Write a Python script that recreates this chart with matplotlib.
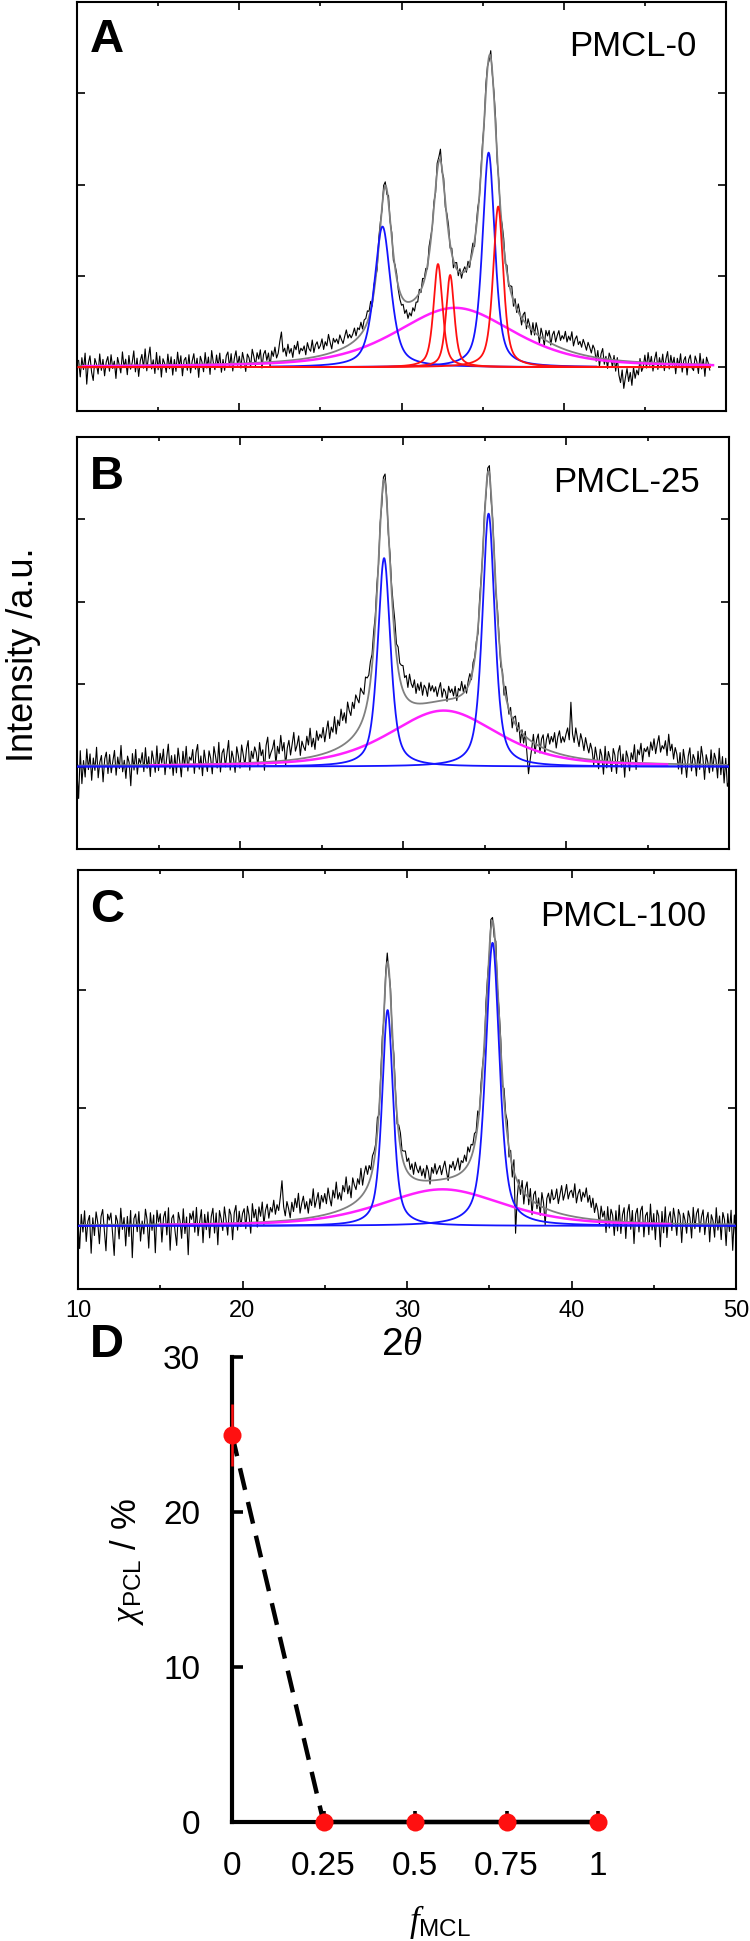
import numpy as np
import matplotlib
matplotlib.use('Agg')
from matplotlib import pyplot as plt
from matplotlib.ticker import MultipleLocator

plt.rcParams['font.family'] = ['Liberation Sans', 'DejaVu Sans']
plt.rcParams['mathtext.fontset'] = 'custom'
plt.rcParams['mathtext.rm'] = 'Liberation Sans'
plt.rcParams['mathtext.it'] = 'Liberation Serif:italic'
plt.rcParams['mathtext.bf'] = 'Liberation Sans:bold'

W, H = 750, 1941

# 2theta sampling of the measured scans (0.1 deg step, 10..50)
two_theta = np.round(np.arange(0, 401) * 0.1 + 10, 2)

# peak tables: (centre, height, fwhm), heights in tick units of each panel
a_blue = [(28.83, 1.54, 1.2), (35.37, 2.35, 0.9)]
a_red = [(32.25, 1.13, 0.65), (33.0, 1.01, 0.6), (35.96, 1.76, 0.74)]
a_amorph = (33.3, 0.65, 8.6)
a_fit = [(29.0, 1.62, 1.0), (32.35, 1.55, 1.0), (35.45, 2.85, 1.15)]

b_blue = [(28.84, 2.53, 0.92), (35.25, 3.07, 0.9)]
b_amorph = (32.5, 0.68, 7.9)
b_fit = [(28.84, 3.1, 1.0), (35.25, 3.1, 1.0)]

c_blue = [(28.82, 1.83, 0.79), (35.2, 2.4, 1.0)]
c_amorph = (32.15, 0.31, 8.9)
c_fit = [(28.82, 2.02, 0.85), (35.2, 2.36, 1.1)]

a_resid = [0, 6, -12, 9, -4, 14, -20, 3, 11, -7,
           -16, 8, 2, -9, 13, -5, 7, -11, 4, 10,
           -6, 12, -3, 5, -14, 9, 1, -8, 15, -2,
           7, -10, 11, -4, 3, 16, -7, 8, -12, 5,
           12, -3, 18, -6, 9, 20, -4, 6, -9, 14,
           -5, 10, -13, 7, 2, -8, 12, -4, 9, -11,
           6, -7, 14, -2, 10, -12, 5, 8, -6, 11,
           -9, 4, 12, -5, 7, -14, 9, 3, -8, 13,
           -4, 8, -11, 15, 2, -6, 10, -3, 12, -9,
           5, -7, 9, 13, -4, 11, -8, 6, 14, -2,
           8, -5, 12, 3, -9, 10, 6, -4, 15, 7,
           -3, 11, 4, 14, -6, 9, 13, 2, 10, -5,
           12, 6, 16, 4, 9, 22, 32, 10, 14, 5,
           18, 8, 13, 3, 16, 11, 20, 6, 12, 9,
           14, 4, 17, 10, 7, 19, 5, 13, 16, 8,
           11, 18, 6, 14, 9, 21, 12, 4, 15, 10,
           13, 7, 16, 10, 5, 12, 18, 8, 11, 6,
           9, 14, 4, 11, 7, 13, 3, 10, 8, 12,
           6, 10, -4, 8, 3, -6, 9, 5, -3, 7,
           4, -5, 8, -2, 6, -7, 3, 5, -4, -8,
           -10, -6, -14, -9, -18, -12, -16, -8, -13, -5,
           -7, 4, -3, 8, 2, 6, -4, 9, 5, -2,
           6, -5, 9, 4, 12, -3, 7, -6, 5, 8,
           -4, 6, -8, 3, 7, -5, 4, -6, 2, 5,
           -3, 6, -5, 4, 8, -6, 3, 7, -4, 5,
           6, -4, 8, 3, -5, 7, -3, 5, 9, -6,
           4, -7, 6, 9, -3, 8, -5, 4, 10, -6,
           7, -4, 9, 2, -8, 6, 11, -5, 8, 3,
           -6, 9, -3, 12, 5, -8, 10, 4, -7, 11,
           6, 13, -2, 10, 15, 4, 12, 18, 8, 14,
           11, 20, 9, 16, 12, 22, 7, 15, 19, 10,
           14, 8, 17, 12, 6, 15, 10, 4, 13, 9,
           -4, 8, -9, 5, 11, -6, 3, -10, 7, 2,
           -8, 5, -12, 3, -16, -24, -10, -30, -18, -8,
           -22, -12, -26, -6, -18, -9, -14, 4, -10, -5,
           8, -6, 11, -3, 7, -9, 4, 12, -7, 6,
           -4, 10, -8, 5, 13, -6, 9, -2, 7, -11,
           6, -3, 11, -9, 4, 8, -12, 5, 10, -4,
           -7, 9, 3, -10, 12, -5, 6, -13, 8, 2,
           -6, 10, -9, 4, 12, -8, 5, -11, 7, -4,
           0]

b_resid = [-8, -40, 18, -22, 6, -14, 20, -5, 14, -18,
           9, -6, 22, -15, 4, 12, -20, 8, 16, -10,
           13, -9, 5, 18, -12, 10, -4, 24, -8, 6,
           -16, 11, 3, -25, 14, -6, 19, -11, 8, 2,
           15, -8, 21, -4, 10, -14, 17, 6, -9, 23,
           -7, 14, 2, 19, -12, 8, 25, -5, 11, -13,
           12, -10, 20, 4, -15, 16, -3, 22, -8, 9,
           5, 18, -11, 14, 24, -6, 10, -14, 17, 3,
           -9, 16, 7, -12, 21, 9, -5, 26, -10, 13,
           18, -4, 12, 28, -8, 15, 6, -11, 20, 9,
           -6, 22, 10, -3, 17, 27, -9, 14, 5, 19,
           12, -5, 24, 8, 15, -10, 20, 30, 4, 11,
           16, 26, -4, 18, 9, 31, 12, 22, -6, 15,
           24, 6, 19, 33, 10, 17, 28, 4, 21, 14,
           9, 26, 15, 35, 12, 22, 8, 30, 18, 25,
           20, 32, 14, 27, 38, 16, 29, 22, 40, 18,
           34, 26, 45, 30, 38, 24, 48, 36, 28, 42,
           32, 46, 38, 30, 44, 35, 26, 40, 30, 22,
           24, 14, 18, 8, 12, -4, 6, -8, 5, 10,
           4, -6, 10, 8, 16, 22, 14, 26, 18, 24,
           30, 20, 26, 14, 32, 22, 18, 28, 12, 24,
           16, 26, 10, 22, 18, 8, 24, 14, 20, 12,
           18, 6, 15, 22, 4, 14, 10, -2, 16, 8,
           12, 3, 14, -4, 10, 6, 16, 2, 8, -5,
           6, 10, -4, 8, 2, 5, -6, 10, 4, -3,
           8, -5, 6, 10, -8, 5, 3, -6, 9, 4,
           -8, 6, -10, 12, 4, -6, 8, -12, 5, 10,
           -6, 8, -14, 4, -10, 6, -18, -42, -24, -8,
           10, -12, 6, 14, -8, 10, 16, -6, 12, 20,
           8, 18, 12, 24, 6, 20, 28, 14, 22, 16,
           26, 34, 20, 66, 28, 18, 36, 24, 14, 30,
           22, 10, 26, 16, 8, 20, 12, -6, 16, 4,
           -10, 14, 6, -16, 18, -8, 12, 4, -12, 16,
           8, -14, 12, 20, -6, 10, -18, 14, 6, -10,
           12, 4, 22, -8, 16, 10, 24, 2, 18, 14,
           20, 8, 26, 16, 30, 12, 24, 34, 14, 22,
           18, 28, 10, 36, 16, 24, 6, 20, 12, -6,
           14, -12, 18, 4, -16, 10, 20, -8, 12, 6,
           -14, 16, -6, 22, 8, -18, 12, 3, -10, 18,
           -8, 14, 6, -16, 20, -12, 10, -22, 8, -26,
           -20]

c_resid = [4, -20, 9, -6, 12, -14, 3, 8, -24, 6,
           -9, 11, 2, -16, 7, 13, -5, -22, 9, 4,
           10, -7, -26, 8, 3, -12, 14, -4, 6, -18,
           7, -10, 12, -28, 5, 9, -6, 11, -14, 3,
           -8, 13, 4, -20, 10, -5, 8, -24, 12, 2,
           9, -15, 6, 11, -9, 14, -22, 5, 8, -6,
           -18, 10, 3, -12, 13, -8, 6, -26, 9, 4,
           11, -7, 14, -10, 2, 12, -16, 8, -5, 10,
           -12, 6, 13, -8, 9, -18, 11, 4, -6, 14,
           3, -10, 12, 7, -14, 9, 15, -6, 10, -3,
           8, 12, -5, 14, 6, -9, 16, 4, 11, -4,
           13, 5, 17, -2, 10, 15, 3, 12, 8, 18,
           6, 14, 9, 20, 34, 12, 4, 16, 10, 2,
           15, 7, 18, 10, 22, 5, 13, 19, 8, 14,
           4, 16, 10, 24, 8, 14, 20, 6, 17, 11,
           18, 9, 22, 13, 6, 19, 12, 25, 10, 15,
           8, 20, 14, 26, 11, 17, 6, 22, 15, 10,
           18, 12, 24, 8, 16, 20, 10, 14, 6, 12,
           8, 4, 12, -4, 6, 10, -6, 5, 8, -3,
           6, -5, 9, 3, -6, 8, 12, 5, 10, 14,
           8, 13, 5, 11, 3, 14, 9, 6, 12, 4,
           10, 2, 13, 8, -3, 11, 6, 14, 5, 9,
           12, 4, 10, 15, 6, -2, 11, 8, 13, 5,
           9, 14, 3, 10, 7, 12, 5, 15, 8, 11,
           6, 10, 4, 12, -3, 8, 5, -6, 9, 4,
           -5, 8, 3, -6, 10, -4, 6, 8, -8, 10,
           5, 12, -8, 6, -10, 10, -48, -14, 4, -6,
           8, -10, 5, 12, -6, 9, -12, 6, 10, -4,
           6, -8, 12, 4, -14, 9, 14, 6, 18, 10,
           12, 20, 8, 16, 24, 12, 18, 26, 14, 20,
           22, 16, 28, 12, 20, 24, 14, 22, 18, 26,
           14, 20, 10, 18, 6, 14, 8, -4, 12, 3,
           8, -10, 12, -6, 10, 5, -12, 9, -8, 14,
           -10, 6, 12, -14, 8, 15, -6, 10, -18, 7,
           12, -8, 10, 14, -12, 6, 9, -10, 16, -6,
           8, -14, 11, 6, -20, 10, -8, 14, -12, 5,
           10, -6, 13, 4, -10, 12, 7, -16, 9, 3,
           -8, 11, 5, -12, 14, -4, 9, 13, -7, 6,
           12, -9, 4, 10, -15, 8, 3, -11, 14, -5,
           7, -13, 10, 4, -18, 9, -6, 12, -22, 8,
           -16]

sample_names = ['PMCL-0', 'PMCL-25', 'PMCL-100']
panel_letters = ['A', 'B', 'C', 'D']

# crystallinity vs MCL fraction
f_mcl = [0, 0.25, 0.5, 0.75, 1]
chi_pcl = [25, 0, 0, 0, 0]
chi_err = [2, 0, 0, 0, 0]
f_labels = ['0', '0.25', '0.5', '0.75', '1']


def peak(x, c, h, w, eta):
    u = (x - c) / (w / 2)
    return h * (eta / (1 + u ** 2) + (1 - eta) * np.exp(-np.log(2) * u ** 2))


def envelope(x, amorph, fit):
    y = peak(x, *amorph, 0.5)
    for p in fit:
        y = y + peak(x, *p, 0.8)
    return y


fig = plt.figure(figsize=(W / 100, H / 100), dpi=100)


def axes_px(left, top, right, bottom):
    return fig.add_axes([left / W, 1 - bottom / H, (right - left) / W, (bottom - top) / H])


def draw_xrd(ax, resid, data_span, amorph, fit, blue, red, blue_span, amorph_span, ylim, yticks):
    lo, hi = data_span
    m = (two_theta >= lo - 1e-6) & (two_theta <= hi + 1e-6)
    x = two_theta[m]
    r = np.array(resid)[m] * 0.01
    ax.plot(x, envelope(x, amorph, fit) + r, color='black', lw=0.8, zorder=1)
    xf = np.linspace(lo, hi, 2000)
    ax.plot(xf, envelope(xf, amorph, fit), color='#808080', lw=1.3, zorder=2)
    xm = np.linspace(*amorph_span, 2000)
    ax.plot(xm, peak(xm, *amorph, 0.5), color='#ff20ff', lw=1.8, zorder=3)
    xb = np.linspace(*blue_span, 2000)
    for p in blue:
        ax.plot(xb, peak(xb, *p, 0.6), color='#1414ff', lw=1.3, zorder=4)
    for p in red:
        ax.plot(xf, peak(xf, *p, 0.6), color='#ff1010', lw=1.3, zorder=5)
    ax.set_xlim(10, 50)
    ax.set_ylim(*ylim)
    ax.set_yticks(yticks)
    ax.xaxis.set_major_locator(MultipleLocator(10))
    ax.xaxis.set_minor_locator(MultipleLocator(5))
    ax.tick_params(which='both', direction='in', top=True, right=True, width=1.2,
                   labelleft=False, labelbottom=False)
    ax.tick_params(which='major', length=6)
    ax.tick_params(which='minor', length=3)
    for s in ax.spines.values():
        s.set_linewidth(1.5)


ax_a = axes_px(77, 2, 726, 411)
ax_b = axes_px(77, 437, 729, 849)
ax_c = axes_px(78, 870, 736, 1289)

draw_xrd(ax_a, a_resid, (10.1, 49.0), a_amorph, a_fit, a_blue, a_red,
         (22, 42), (10.4, 49.2), (-0.48, 4.0), [0, 1, 2, 3])
draw_xrd(ax_b, b_resid, (10.0, 50.0), b_amorph, b_fit, b_blue, [],
         (10, 50), (14.5, 46.2), (-1.0, 4.0), [0, 1, 2, 3])
draw_xrd(ax_c, c_resid, (10.0, 50.0), c_amorph, c_fit, c_blue, [],
         (10, 50), (15, 46), (-0.535, 3.017), [0, 1, 2])

ax_c.tick_params(labelbottom=True, labelsize=17, pad=8)

for ax, name in zip([ax_a, ax_b, ax_c], sample_names):
    ax.text(0.955, 0.89, name, transform=ax.transAxes, ha='right', va='center', fontsize=25)

for y, letter in zip([40, 477, 910, 1345], panel_letters):
    fig.text(107 / W, 1 - y / H, letter, ha='center', va='center', fontsize=34, fontweight='bold')

fig.text(24 / W, 1 - 655 / H, 'Intensity /a.u.', rotation=90, ha='center', va='center', fontsize=26)
fig.text(402 / W, 1 - 1345 / H, r'2$\theta$', ha='center', va='center', fontsize=28)

# panel D
ax_d = axes_px(232, 1357, 598, 1822)
ax_d.plot(f_mcl[:2], chi_pcl[:2], color='black', lw=3.2, dashes=(5, 2.8), zorder=2)
ax_d.plot(f_mcl[1:], chi_pcl[1:], color='black', lw=3.2, zorder=2, clip_on=False)
eb = ax_d.errorbar(f_mcl, chi_pcl, yerr=chi_err, fmt='none', ecolor='#ff1010',
                   elinewidth=1.8, capsize=0, zorder=3)
for c in eb[2]:
    c.set_clip_on(False)
ax_d.plot(f_mcl, chi_pcl, 'o', color='#ff1010', ms=13, mec='none', zorder=4, clip_on=False)
ax_d.set_xlim(0, 1)
ax_d.set_ylim(0, 30)
ax_d.set_xticks(f_mcl)
ax_d.set_xticklabels(f_labels)
ax_d.set_yticks([0, 10, 20, 30])
ax_d.spines['top'].set_visible(False)
ax_d.spines['right'].set_visible(False)
for s in ['left', 'bottom']:
    ax_d.spines[s].set_linewidth(3)
ax_d.tick_params(direction='in', length=8, width=2.6, labelsize=24)
ax_d.tick_params(axis='x', pad=21)
ax_d.tick_params(axis='y', pad=23)
ax_d.set_xlabel(r'$f_{\rm MCL}$', fontsize=25)
ax_d.xaxis.set_label_coords(0.568, -0.175)
ax_d.set_ylabel(r'$\chi_{\rm PCL}$ / %', fontsize=25)
ax_d.yaxis.set_label_coords(-0.235, 0.56)

fig.savefig('out.png', dpi=100)
